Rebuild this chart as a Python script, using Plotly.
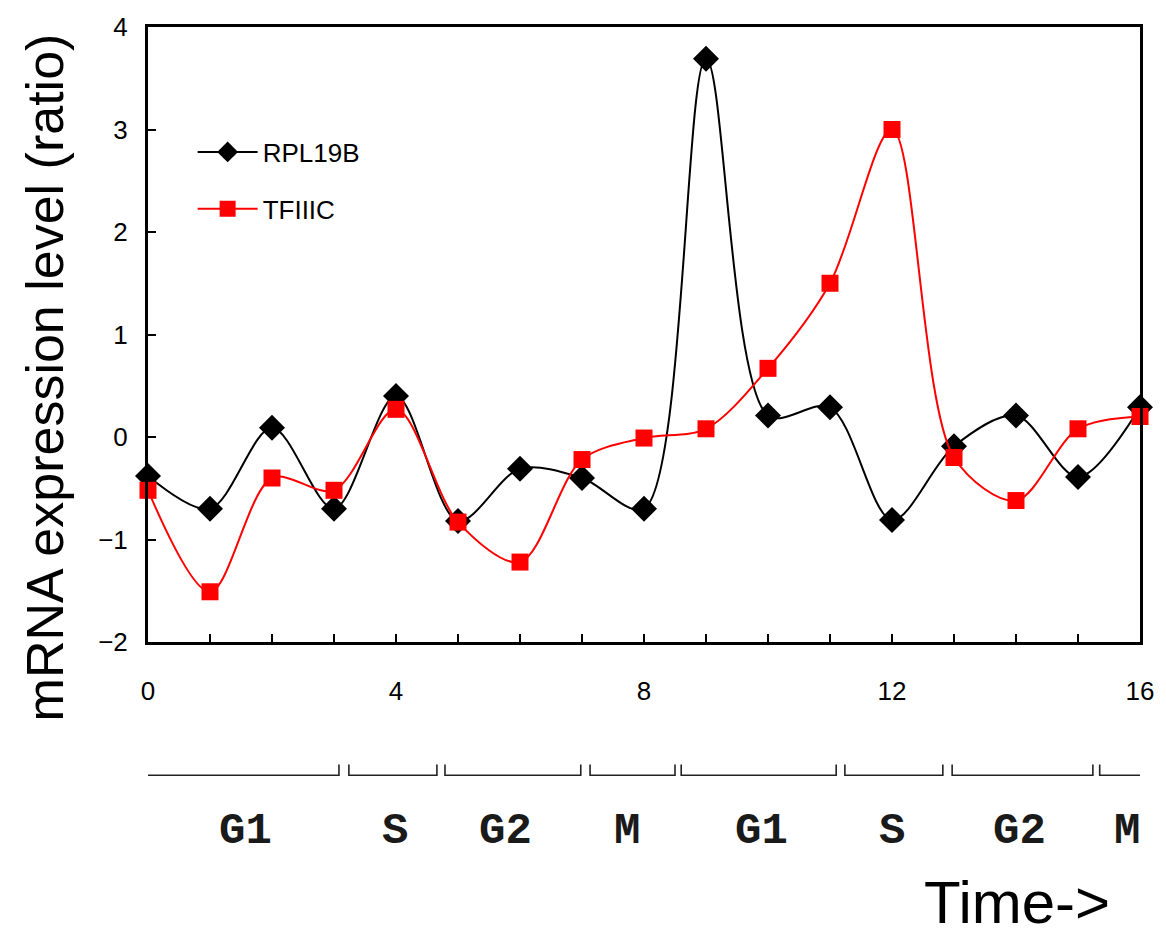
import plotly.graph_objects as go

# ---- data ----
time_points = list(range(17))
rpl19b = [-0.38, -0.70, 0.09, -0.70, 0.40, -0.82, -0.31, -0.40, -0.70,
          3.69, 0.21, 0.29, -0.81, -0.09, 0.21, -0.39, 0.29]
tfiiic = [-0.52, -1.51, -0.40, -0.52, 0.27, -0.83, -1.22, -0.22, -0.01,
          0.08, 0.67, 1.50, 3.00, -0.20, -0.62, 0.08, 0.20]

x_tick_vals = list(range(17))
x_tick_text = ["0", "", "", "", "4", "", "", "", "8", "", "", "", "12", "", "", "", "16"]
y_tick_vals = [-2, -1, 0, 1, 2, 3, 4]

phase_labels = ["G1", "S", "G2", "M", "G1", "S", "G2", "M"]
phase_starts = [-0.24, 3.24, 4.79, 7.13, 8.60, 11.24, 12.97, 15.35]
phase_ends = [3.08, 4.66, 6.98, 8.50, 11.10, 12.82, 15.24, 16.05]
phase_label_x = [1.58, 3.98, 5.76, 7.73, 9.90, 12.00, 14.06, 15.79]

FONT = "Liberation Sans, Arial, sans-serif"

fig = go.Figure()
fig.add_trace(go.Scatter(
    x=time_points, y=rpl19b, name="RPL19B", mode="lines+markers",
    line=dict(color="black", width=2, shape="spline", smoothing=0.9),
    marker=dict(symbol="diamond", size=20, color="black"),
    cliponaxis=False, legendgroup="a"))
fig.add_trace(go.Scatter(
    x=time_points, y=tfiiic, name="TFIIIC", mode="lines+markers",
    line=dict(color="#ff0000", width=2, shape="spline", smoothing=0.9),
    marker=dict(symbol="square", size=17, color="#ff0000"),
    cliponaxis=False, legendgroup="b"))

shapes = []
ann = []
for s, e, in zip(phase_starts, phase_ends):
    shapes.append(dict(type="path", xref="x", yref="paper",
                       path=f"M {s},-0.1990 L {s},-0.2167 L {e},-0.2167 L {e},-0.1990",
                       line=dict(color="#222222", width=1.6)))
for lab, lx in zip(phase_labels, phase_label_x):
    ann.append(dict(x=lx, y=-0.308, xref="x", yref="paper", text=f"<b>{lab}</b>",
                    showarrow=False, xanchor="center", yanchor="middle",
                    font=dict(family="Courier New, Liberation Mono, monospace", size=44, color="#1a1a1a")))

ann.append(dict(x=-0.104, y=0.43, xref="paper", yref="paper",
                text="mRNA expression level (ratio)", textangle=-90, showarrow=False,
                xanchor="center", yanchor="middle", font=dict(family=FONT, size=52, color="black")))
ann.append(dict(x=0.876, y=-0.482, xref="paper", yref="paper", text="Time->",
                showarrow=False, xanchor="center", yanchor="bottom",
                font=dict(family=FONT, size=60, color="black")))

fig.update_layout(
    width=1166, height=947,
    margin=dict(l=148, r=26, t=19, b=305),
    paper_bgcolor="white", plot_bgcolor="white",
    font=dict(family=FONT, color="black"),
    showlegend=True,
    legend=dict(x=0.045, y=0.835, xanchor="left", yanchor="top",
                font=dict(family=FONT, size=26, color="black"),
                bgcolor="rgba(0,0,0,0)", tracegroupgap=20, itemwidth=60),
    shapes=shapes, annotations=ann,
    xaxis=dict(range=[0, 16], tickvals=x_tick_vals, ticktext=x_tick_text,
               ticks="inside", ticklen=8, tickwidth=2, tickcolor="black",
               showline=True, linewidth=3, linecolor="black", mirror=True,
               showgrid=False, zeroline=False, ticklabelstandoff=24,
               tickfont=dict(family=FONT, size=26, color="black")),
    yaxis=dict(range=[-2, 4], tickvals=y_tick_vals,
               ticks="inside", ticklen=8, tickwidth=2, tickcolor="black",
               showline=True, linewidth=3, linecolor="black", mirror=True,
               showgrid=False, zeroline=False, ticklabelstandoff=12,
               tickfont=dict(family=FONT, size=26, color="black")),
)

fig.write_html("out.html")
